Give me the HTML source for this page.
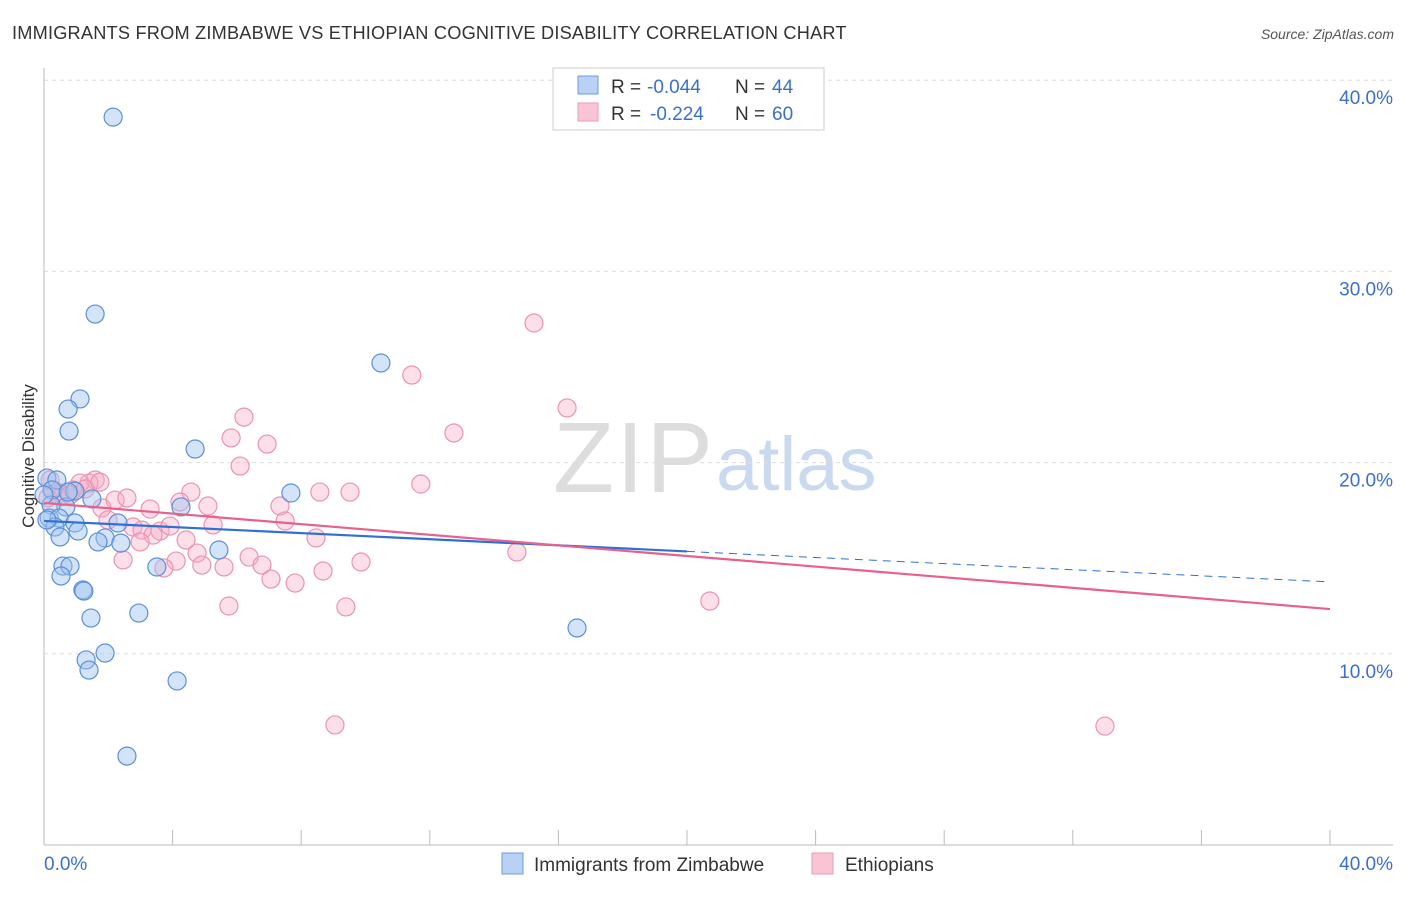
<!DOCTYPE html>
<html><head><meta charset="utf-8">
<style>
body{margin:0;background:#fff;font-family:"Liberation Sans",sans-serif;}
svg text{font-family:"Liberation Sans",sans-serif;}
</style></head>
<body>
<svg id="chart" width="1406" height="892" xmlns="http://www.w3.org/2000/svg">
<text x="12" y="39" font-size="18.2" letter-spacing="0.2" fill="#333">IMMIGRANTS FROM ZIMBABWE VS ETHIOPIAN COGNITIVE DISABILITY CORRELATION CHART</text>
<text x="1394" y="39" font-size="14" fill="#555" font-style="italic" text-anchor="end">Source: ZipAtlas.com</text>
<g>
<text x="553" y="492" font-size="100" fill="#ddd" font-family="Liberation Serif" textLength="160">ZIP</text>
<text x="716" y="490" font-size="76" fill="#c9d9f0">atlas</text>
</g>
<g id="grid"></g>
<g id="axes"></g>
<g id="marks"></g>
<g id="trends"></g>
<g>
<rect x="553" y="68" width="271" height="62" fill="#fff" stroke="#ccc"/>
<rect x="578" y="76" width="20" height="18" fill="#b9d2f3" stroke="#6b9be0"/>
<rect x="578" y="103" width="20" height="18" fill="#f9c5d5" stroke="#ec9ab4"/>
<text x="611" y="93" font-size="19" fill="#333">R =</text>
<text x="647" y="93" font-size="19" fill="#3a70cc">-0.044</text>
<text x="735" y="93" font-size="19" fill="#333">N =</text>
<text x="772" y="93" font-size="19" fill="#3a70cc">44</text>
<text x="611" y="120" font-size="19" fill="#333">R =</text>
<text x="650" y="120" font-size="19" fill="#3a70cc">-0.224</text>
<text x="735" y="120" font-size="19" fill="#333">N =</text>
<text x="772" y="120" font-size="19" fill="#3a70cc">60</text>
</g>
<g>
<rect x="502" y="853" width="21" height="21" fill="#b9d2f3" stroke="#6b9be0"/>
<text x="534" y="871" font-size="19" fill="#333">Immigrants from Zimbabwe</text>
<rect x="812" y="853" width="21" height="21" fill="#f9c5d5" stroke="#ec9ab4"/>
<text x="845" y="871" font-size="19" fill="#333">Ethiopians</text>
</g>
<text transform="translate(34,456) rotate(-90)" font-size="17" fill="#333" text-anchor="middle">Cognitive Disability</text>
</svg>
<script>
const yTicks=[10,20,30,40];
const yTickLabels=["10.0%","20.0%","30.0%","40.0%"];
const xTicks=[4,8,12,16,20,24,28,32,36,40];
const blueX=[2.15,1.59,1.12,0.75,0.78,10.48,4.70,7.68,0.09,0.40,0.25,0.96,1.49,0.68,0.22,0.16,0.47,0.96,2.30,0.34,1.06,0.50,1.90,1.68,2.39,5.44,0.59,0.81,3.51,0.53,1.21,1.24,1.46,2.95,16.58,1.31,1.90,1.40,4.14,2.58,4.26,0.0,0.09,0.75];
const blueY=[38.07,27.77,23.33,22.80,21.65,25.21,20.71,18.41,19.19,19.09,18.57,18.51,18.10,17.68,17.78,17.10,17.10,16.84,16.84,16.63,16.42,16.11,16.06,15.85,15.79,15.43,14.59,14.59,14.54,14.07,13.34,13.28,11.87,12.13,11.35,9.68,10.04,9.15,8.58,4.65,17.68,18.31,17.00,18.46];
const pinkX=[15.24,11.44,16.27,6.22,12.75,5.82,6.94,6.10,1.59,1.40,1.12,11.72,4.57,8.58,9.52,0.28,0.50,0.90,2.21,2.58,4.23,1.80,5.10,7.34,3.30,1.99,2.77,5.26,7.50,3.05,3.61,3.92,3.39,4.42,2.99,8.46,4.76,6.38,2.46,4.11,4.91,6.78,9.86,5.60,3.73,8.68,14.71,7.06,7.81,5.75,9.39,20.71,9.05,33.00,0.50,0.81,1.28,1.74,0.19,0.12];
const pinkY=[27.30,24.58,22.86,22.38,21.55,21.29,20.97,19.82,19.09,18.93,18.93,18.88,18.46,18.46,18.46,18.57,18.41,18.57,18.04,18.15,17.94,17.63,17.73,17.73,17.57,17.00,16.63,16.74,16.95,16.47,16.42,16.68,16.21,15.95,15.85,16.06,15.27,15.06,14.91,14.85,14.64,14.64,14.80,14.54,14.49,14.33,15.32,13.91,13.70,12.50,12.45,12.76,6.28,6.22,18.20,18.31,18.62,18.98,19.09,18.15];
const blueTrend=[16.95,13.76];
const pinkTrend=[17.89,12.34];
const blueSolidEnd=20;
const NS="http://www.w3.org/2000/svg";
const sx=v=>44+v/40*1286;
const sy=v=>845-v*19.12;
function mk(t,a,p){const e=document.createElementNS(NS,t);for(const k in a)e.setAttribute(k,a[k]);p.appendChild(e);return e;}
const grid=document.getElementById('grid'),axes=document.getElementById('axes'),marks=document.getElementById('marks'),trends=document.getElementById('trends');
yTicks.forEach((t,i)=>{
 const l=mk('line',{x1:44,x2:1393,y1:sy(t),y2:sy(t),stroke:'#ddd','stroke-dasharray':'4,4'},grid);
 
 
 const tx=mk('text',{x:1393,y:sy(t)+24,'font-size':19,fill:'#3a70cc','text-anchor':'end'},axes);
 tx.textContent=yTickLabels[i];
 
 
});
let a=mk('line',{x1:44,x2:44,y1:68,y2:845,stroke:'#bbb'},axes);


a=mk('line',{x1:44,x2:1393,y1:845,y2:845,stroke:'#bbb'},axes);


xTicks.forEach(t=>{
 const l=mk('line',{x1:sx(t),x2:sx(t),y1:830,y2:845,stroke:'#bbb'},axes);
 
 
});
let xl=mk('text',{x:44,y:870,'font-size':19,fill:'#3a70cc'},axes);xl.textContent='0.0%';


xl=mk('text',{x:1393,y:870,'font-size':19,fill:'#3a70cc','text-anchor':'end'},axes);xl.textContent='40.0%';


pinkX.forEach((x,i)=>{
 const c=mk('circle',{cx:sx(x),cy:sy(pinkY[i]),r:9,fill:'rgba(246,172,196,0.38)',stroke:'#eb93b0','stroke-width':1.2},marks);
 
 
});
blueX.forEach((x,i)=>{
 const c=mk('circle',{cx:sx(x),cy:sy(blueY[i]),r:9,fill:'rgba(160,195,240,0.45)',stroke:'#5b8fd8','stroke-width':1.2},marks);
 
 
});
const bAt=x=>blueTrend[0]+(blueTrend[1]-blueTrend[0])*x/40;
let t=mk('line',{x1:sx(0),y1:sy(bAt(0)),x2:sx(blueSolidEnd),y2:sy(bAt(blueSolidEnd)),stroke:'#2f6fd6','stroke-width':2.2},trends);


t=mk('line',{x1:sx(blueSolidEnd),y1:sy(bAt(blueSolidEnd)),x2:sx(40),y2:sy(bAt(40)),stroke:'#2f6fd6','stroke-width':1,'stroke-dasharray':'8,6'},trends);


t=mk('line',{x1:sx(0),y1:sy(pinkTrend[0]),x2:sx(40),y2:sy(pinkTrend[1]),stroke:'#e8608c','stroke-width':2.2},trends);


</script>
</body></html>
